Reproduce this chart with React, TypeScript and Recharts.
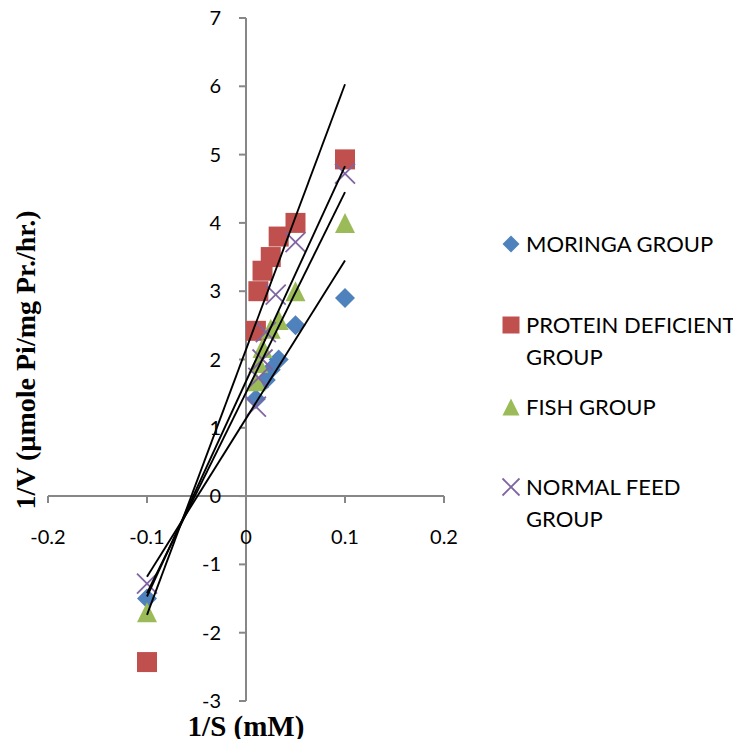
import { ScatterChart, XAxis, YAxis, Scatter, ReferenceLine, ReferenceDot } from 'recharts';

const xTicks = [-0.2, -0.1, 0, 0.1, 0.2];
const xTickLabels = ['-0.2', '-0.1', '0', '0.1', '0.2'];
const yTicks = [-3, -2, -1, 0, 1, 2, 3, 4, 5, 6, 7];

const moringaX = [-0.1, 0.01, 0.02, 0.025, 0.033, 0.05, 0.1];
const moringaY = [-1.5, 1.42, 1.7, 1.85, 2.0, 2.5, 2.9];

const proteinX = [-0.1, 0.01, 0.0125, 0.0167, 0.025, 0.033, 0.05, 0.1];
const proteinY = [-2.43, 2.42, 3.0, 3.3, 3.5, 3.8, 4.0, 4.93];

const fishX = [-0.1, 0.01, 0.0125, 0.0167, 0.025, 0.033, 0.05, 0.1];
const fishY = [-1.7, 1.68, 1.95, 2.17, 2.45, 2.58, 3.0, 4.0];

const normalX = [-0.1, 0.01, 0.0125, 0.0167, 0.02, 0.03, 0.05, 0.1];
const normalY = [-1.28, 1.31, 1.73, 2.0, 2.4, 2.95, 3.72, 4.72];

// trend line ends, read at x = -0.1 and x = 0.1
const trendX = [-0.1, 0.1];
const moringaTrend = [-1.18, 3.45];
const proteinTrend = [-1.74, 6.03];
const fishTrend = [-1.42, 4.45];
const normalTrend = [-1.47, 4.83];

const toPoints = (xs: number[], ys: number[]) => xs.map((x, i) => ({ x, y: ys[i] }));

const BLUE = '#4f81bd';
const RED = '#c0504d';
const GREEN = '#9bbb59';
const PURPLE = '#8064a2';
const AXIS = '#878787';
const TICK_FONT = 'Lato, "Open Sans", sans-serif';
const TITLE_FONT = '"Liberation Serif", "Times New Roman", serif';

const Diamond = ({ cx, cy, s = 10 }: any) => (
  <polygon points={`${cx},${cy - s} ${cx + s},${cy} ${cx},${cy + s} ${cx - s},${cy}`} fill={BLUE} />
);
const Square = ({ cx, cy, s = 10 }: any) => (
  <rect x={cx - s} y={cy - s} width={s * 2} height={s * 2} fill={RED} />
);
const Triangle = ({ cx, cy, s = 10 }: any) => (
  <polygon points={`${cx},${cy - s} ${cx + s},${cy + s} ${cx - s},${cy + s}`} fill={GREEN} />
);
const Cross = ({ cx, cy, s = 10 }: any) => (
  <g stroke={PURPLE} strokeWidth={1.8}>
    <line x1={cx - s} y1={cy - s} x2={cx + s} y2={cy + s} />
    <line x1={cx - s} y1={cy + s} x2={cx + s} y2={cy - s} />
  </g>
);

const XTick = ({ cx, cy, label }: any) => (
  <g>
    <line x1={cx} y1={cy} x2={cx} y2={cy + 7} stroke={AXIS} strokeWidth={2} />
    <text x={cx} y={cy + 43} textAnchor="middle" dominantBaseline="middle" fontFamily={TICK_FONT} fontSize={20} fill="#000">
      {label}
    </text>
  </g>
);

const YTick = ({ cx, cy, label }: any) => (
  <g>
    <line x1={cx - 7} y1={cy} x2={cx} y2={cy} stroke={AXIS} strokeWidth={2} />
    <text x={cx - 25} y={cy + 2} textAnchor="end" dominantBaseline="middle" fontFamily={TICK_FONT} fontSize={20} fill="#000">
      {label}
    </text>
  </g>
);

const legendItems = [
  { lines: ['MORINGA GROUP'], top: 236, Marker: Diamond },
  { lines: ['PROTEIN DEFICIENT', 'GROUP'], top: 317, Marker: Square },
  { lines: ['FISH GROUP'], top: 399, Marker: Triangle },
  { lines: ['NORMAL FEED', 'GROUP'], top: 479, Marker: Cross },
];

const Legend = () => (
  <>
    {legendItems.map(({ lines, top, Marker }) => (
      <div key={lines[0]}>
        <svg width={20} height={20} style={{ position: 'absolute', left: 493, top: top - 10 }}>
          <Marker cx={10} cy={10} s={8.5} />
        </svg>
        {lines.map((line, i) => (
          <div
            key={line}
            style={{
              position: 'absolute',
              left: 518,
              top: top + i * 32 - 16,
              height: 32,
              lineHeight: '32px',
              fontFamily: TICK_FONT,
              fontSize: 22,
              color: '#000',
              whiteSpace: 'nowrap',
            }}
          >
            {line}
          </div>
        ))}
      </div>
    ))}
  </>
);

export default function App() {
  return (
    <div style={{ position: 'relative', width: 725, height: 731 }}>
      <ScatterChart
        width={725}
        height={731}
        margin={{ top: 10, right: 289, bottom: 38, left: 40 }}
        style={{ overflow: 'visible' }}
      >
        <XAxis type="number" dataKey="x" domain={[-0.2, 0.2]} ticks={xTicks} hide />
        <YAxis type="number" dataKey="y" domain={[-3, 7]} ticks={yTicks} hide />
        <ReferenceLine x={0} stroke={AXIS} strokeWidth={2} />
        <ReferenceLine y={0} stroke={AXIS} strokeWidth={2} />
        {xTicks.map((t, i) => (
          <ReferenceDot
            key={`x${t}`}
            x={t}
            y={0}
            ifOverflow="visible"
            shape={(p: any) => <XTick {...p} label={xTickLabels[i]} />}
          />
        ))}
        {yTicks.map((t) => (
          <ReferenceDot
            key={`y${t}`}
            x={0}
            y={t}
            ifOverflow="visible"
            shape={(p: any) => <YTick {...p} label={String(t)} />}
          />
        ))}
        <Scatter name="MORINGA GROUP" data={toPoints(moringaX, moringaY)} shape={(p: any) => <Diamond {...p} />} isAnimationActive={false} />
        <Scatter name="PROTEIN DEFICIENT GROUP" data={toPoints(proteinX, proteinY)} shape={(p: any) => <Square {...p} />} isAnimationActive={false} />
        <Scatter name="FISH GROUP" data={toPoints(fishX, fishY)} shape={(p: any) => <Triangle {...p} />} isAnimationActive={false} />
        <Scatter name="NORMAL FEED GROUP" data={toPoints(normalX, normalY)} shape={(p: any) => <Cross {...p} />} isAnimationActive={false} />
        {[moringaTrend, proteinTrend, fishTrend, normalTrend].map((ys, i) => (
          <Scatter
            key={`trend${i}`}
            data={toPoints(trendX, ys)}
            line={{ stroke: '#000', strokeWidth: 1.9 }}
            shape={() => <g />}
            isAnimationActive={false}
          />
        ))}
      </ScatterChart>
      <Legend />
      <div
        style={{
          position: 'absolute',
          left: 18,
          top: 352,
          transform: 'translate(-50%, -50%) rotate(-90deg)',
          fontFamily: TITLE_FONT,
          fontWeight: 'bold',
          fontSize: 28,
          whiteSpace: 'nowrap',
          color: '#000',
        }}
      >
        1/V (µmole Pi/mg Pr./hr.)
      </div>
      <div
        style={{
          position: 'absolute',
          left: 238,
          top: 718,
          transform: 'translate(-50%, -50%)',
          fontFamily: TITLE_FONT,
          fontWeight: 'bold',
          fontSize: 29,
          lineHeight: 1,
          whiteSpace: 'nowrap',
          color: '#000',
        }}
      >
        1/S (mM)
      </div>
    </div>
  );
}
